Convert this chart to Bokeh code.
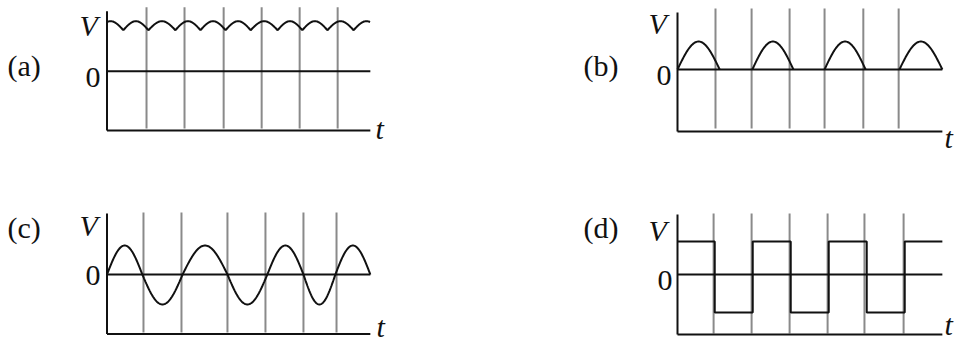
import numpy as np
from bokeh.plotting import figure
from bokeh.layouts import column, row
from bokeh.models import Range1d
from bokeh.core.properties import value
from bokeh.embed import file_html
from bokeh.resources import INLINE

# ---------------- data (time in grid units, voltage in arbitrary units) ----------------
# (a) smoothed / rippled DC
a_grid_t = [1.04, 2.04, 3.07, 4.07, 5.07, 6.07]
a_ripple_troughs = [0.43, 1.09, 1.80, 2.46, 3.12, 3.78, 4.49, 5.14, 5.80, 6.49]
a_v_top = 5.0
a_v_trough = 4.1
a_t_end = 6.93

# (b) half-wave pulses
b_grid_t = [1.00, 1.95, 2.95, 3.87, 4.89, 5.82]
b_hump_start = [0.00, 1.97, 3.87, 5.84]
b_hump_end = [1.11, 3.05, 4.95, 6.97]
b_peak = 2.8
b_t_end = 6.97

# (c) alternating sine
c_grid_t = [0.96, 1.96, 3.17, 4.17, 5.17, 6.04]
c_zero_cross = [0.00, 0.93, 1.99, 3.17, 4.22, 5.17, 6.01, 6.93]
c_peak_pos = 2.9
c_peak_neg = -3.0
c_t_end = 6.93

# (d) square wave
d_grid_t = [0.95, 1.95, 2.95, 3.95, 4.92, 5.95]
d_edges = [0.00, 0.98, 1.98, 2.98, 3.98, 4.98, 5.98, 6.97]
d_levels = [3.3, -3.8, 3.3, -3.8, 3.3, -3.8, 3.3]
d_t_end = 6.97

labels = ["(a)", "(b)", "(c)", "(d)"]

# ---------------- layout / style ----------------
PX_T = 38.0   # px per time unit
PX_V = 10.0   # px per voltage unit
FIG_W, FIG_H = 478, 171
FONT = value("Liberation Serif")
FS = "30px"
BLACK = "#111111"
GREY = "#8a8a8a"
TEXT_DY = -10  # vertical correction for text baselines (page px)

# panel geometry in page pixels (page has no body margin in Bokeh's template)
geo = {
    "a": dict(left=0, top=0, x0=106.5, z0=70.7, base=-5.93, axtop=6.0, gtop=6.4, gbot=-5.73,
              lab=(7, 75), V=(79, 35), Z=(85, 87), T=(375, 138)),
    "b": dict(left=478, top=0, x0=677, z0=69, base=-6.2, axtop=5.7, gtop=6.1, gbot=-5.9,
              lab=(583, 75), V=(648, 33), Z=(656, 85), T=(944, 147)),
    "c": dict(left=0, top=171, x0=106.5, z0=274, base=-5.95, axtop=6.1, gtop=6.2, gbot=-5.8,
              lab=(7, 237), V=(79, 235), Z=(85, 285), T=(376, 336)),
    "d": dict(left=478, top=171, x0=677, z0=274, base=-6.0, axtop=6.0, gtop=6.1, gbot=-5.9,
              lab=(583, 237), V=(648, 240), Z=(657, 290), T=(944, 334)),
}


def make_fig(key, label, grid_t, t_end):
    g = geo[key]
    xs = (g["left"] - g["x0"]) / PX_T
    xe = (g["left"] + FIG_W - g["x0"]) / PX_T
    ys = (g["z0"] - (g["top"] + FIG_H)) / PX_V
    ye = (g["z0"] - g["top"]) / PX_V
    p = figure(width=FIG_W, height=FIG_H, x_range=Range1d(xs, xe), y_range=Range1d(ys, ye),
               output_backend="svg", toolbar_location=None, min_border=0,
               x_axis_location=None, y_axis_location=None, outline_line_color=None,
               background_fill_color="white", border_fill_color="white")
    p.xgrid.visible = False
    p.ygrid.visible = False

    # grey period markers
    p.segment(x0=grid_t, y0=[g["gbot"]] * len(grid_t), x1=grid_t, y1=[g["gtop"]] * len(grid_t),
              line_color=GREY, line_width=2)
    # axes (V axis and t axis) + zero line
    p.segment(x0=[0], y0=[g["base"]], x1=[0], y1=[g["axtop"]], line_color=BLACK, line_width=2)
    p.segment(x0=[0], y0=[g["base"]], x1=[t_end], y1=[g["base"]], line_color=BLACK, line_width=2)
    p.segment(x0=[0], y0=[0], x1=[t_end], y1=[0], line_color=BLACK, line_width=2)

    def px(sx, sy):
        return (sx - g["x0"]) / PX_T, (g["z0"] - (sy + TEXT_DY)) / PX_V

    lx, ly = px(*g["lab"])
    p.text(x=[lx], y=[ly], text=[label], text_font=FONT, text_font_size=FS,
           text_baseline="alphabetic", text_align="left", text_color=BLACK)
    vx, vy = px(*g["V"])
    p.text(x=[vx], y=[vy], text=["V"], text_font=FONT, text_font_size=FS, text_font_style="italic",
           text_baseline="alphabetic", text_align="left", text_color=BLACK)
    zx, zy = px(*g["Z"])
    p.text(x=[zx], y=[zy], text=["0"], text_font=FONT, text_font_size=FS,
           text_baseline="alphabetic", text_align="left", text_color=BLACK)
    tx, ty = px(*g["T"])
    p.text(x=[tx], y=[ty], text=["t"], text_font=FONT, text_font_size=FS, text_font_style="italic",
           text_baseline="alphabetic", text_align="left", text_color=BLACK)
    return p


# (a)
pa = make_fig("a", labels[0], a_grid_t, a_t_end)
period = float(np.mean(np.diff(a_ripple_troughs)))
cusps = [a_ripple_troughs[0] - period] + a_ripple_troughs + [a_ripple_troughs[-1] + period]
ax_, ay_ = [], []
for c0, c1 in zip(cusps[:-1], cusps[1:]):
    tt = np.linspace(c0, c1, 40)
    vv = a_v_trough + (a_v_top - a_v_trough) * np.sin(np.pi * (tt - c0) / (c1 - c0))
    m = (tt >= 0) & (tt <= a_t_end)
    ax_.extend(tt[m]); ay_.extend(vv[m])
pa.line(ax_, ay_, line_color=BLACK, line_width=2)

# (b)
pb = make_fig("b", labels[1], b_grid_t, b_t_end)
for s, e in zip(b_hump_start, b_hump_end):
    tt = np.linspace(s, e, 50)
    pb.line(tt, b_peak * np.sin(np.pi * (tt - s) / (e - s)), line_color=BLACK, line_width=2)

# (c)
pc = make_fig("c", labels[2], c_grid_t, c_t_end)
cx_, cy_ = [], []
for i, (s, e) in enumerate(zip(c_zero_cross[:-1], c_zero_cross[1:])):
    amp = c_peak_pos if i % 2 == 0 else c_peak_neg
    tt = np.linspace(s, e, 50)
    cx_.extend(tt); cy_.extend(amp * np.sin(np.pi * (tt - s) / (e - s)))
pc.line(cx_, cy_, line_color=BLACK, line_width=2)

# (d)
pd_ = make_fig("d", labels[3], d_grid_t, d_t_end)
dx_, dy_ = [], []
for i, lev in enumerate(d_levels):
    dx_.extend([d_edges[i], d_edges[i + 1]]); dy_.extend([lev, lev])
pd_.line(dx_, dy_, line_color=BLACK, line_width=2)

layout = column(row(pa, pb), row(pc, pd_))
open("out.html", "w").write(file_html(layout, INLINE))
